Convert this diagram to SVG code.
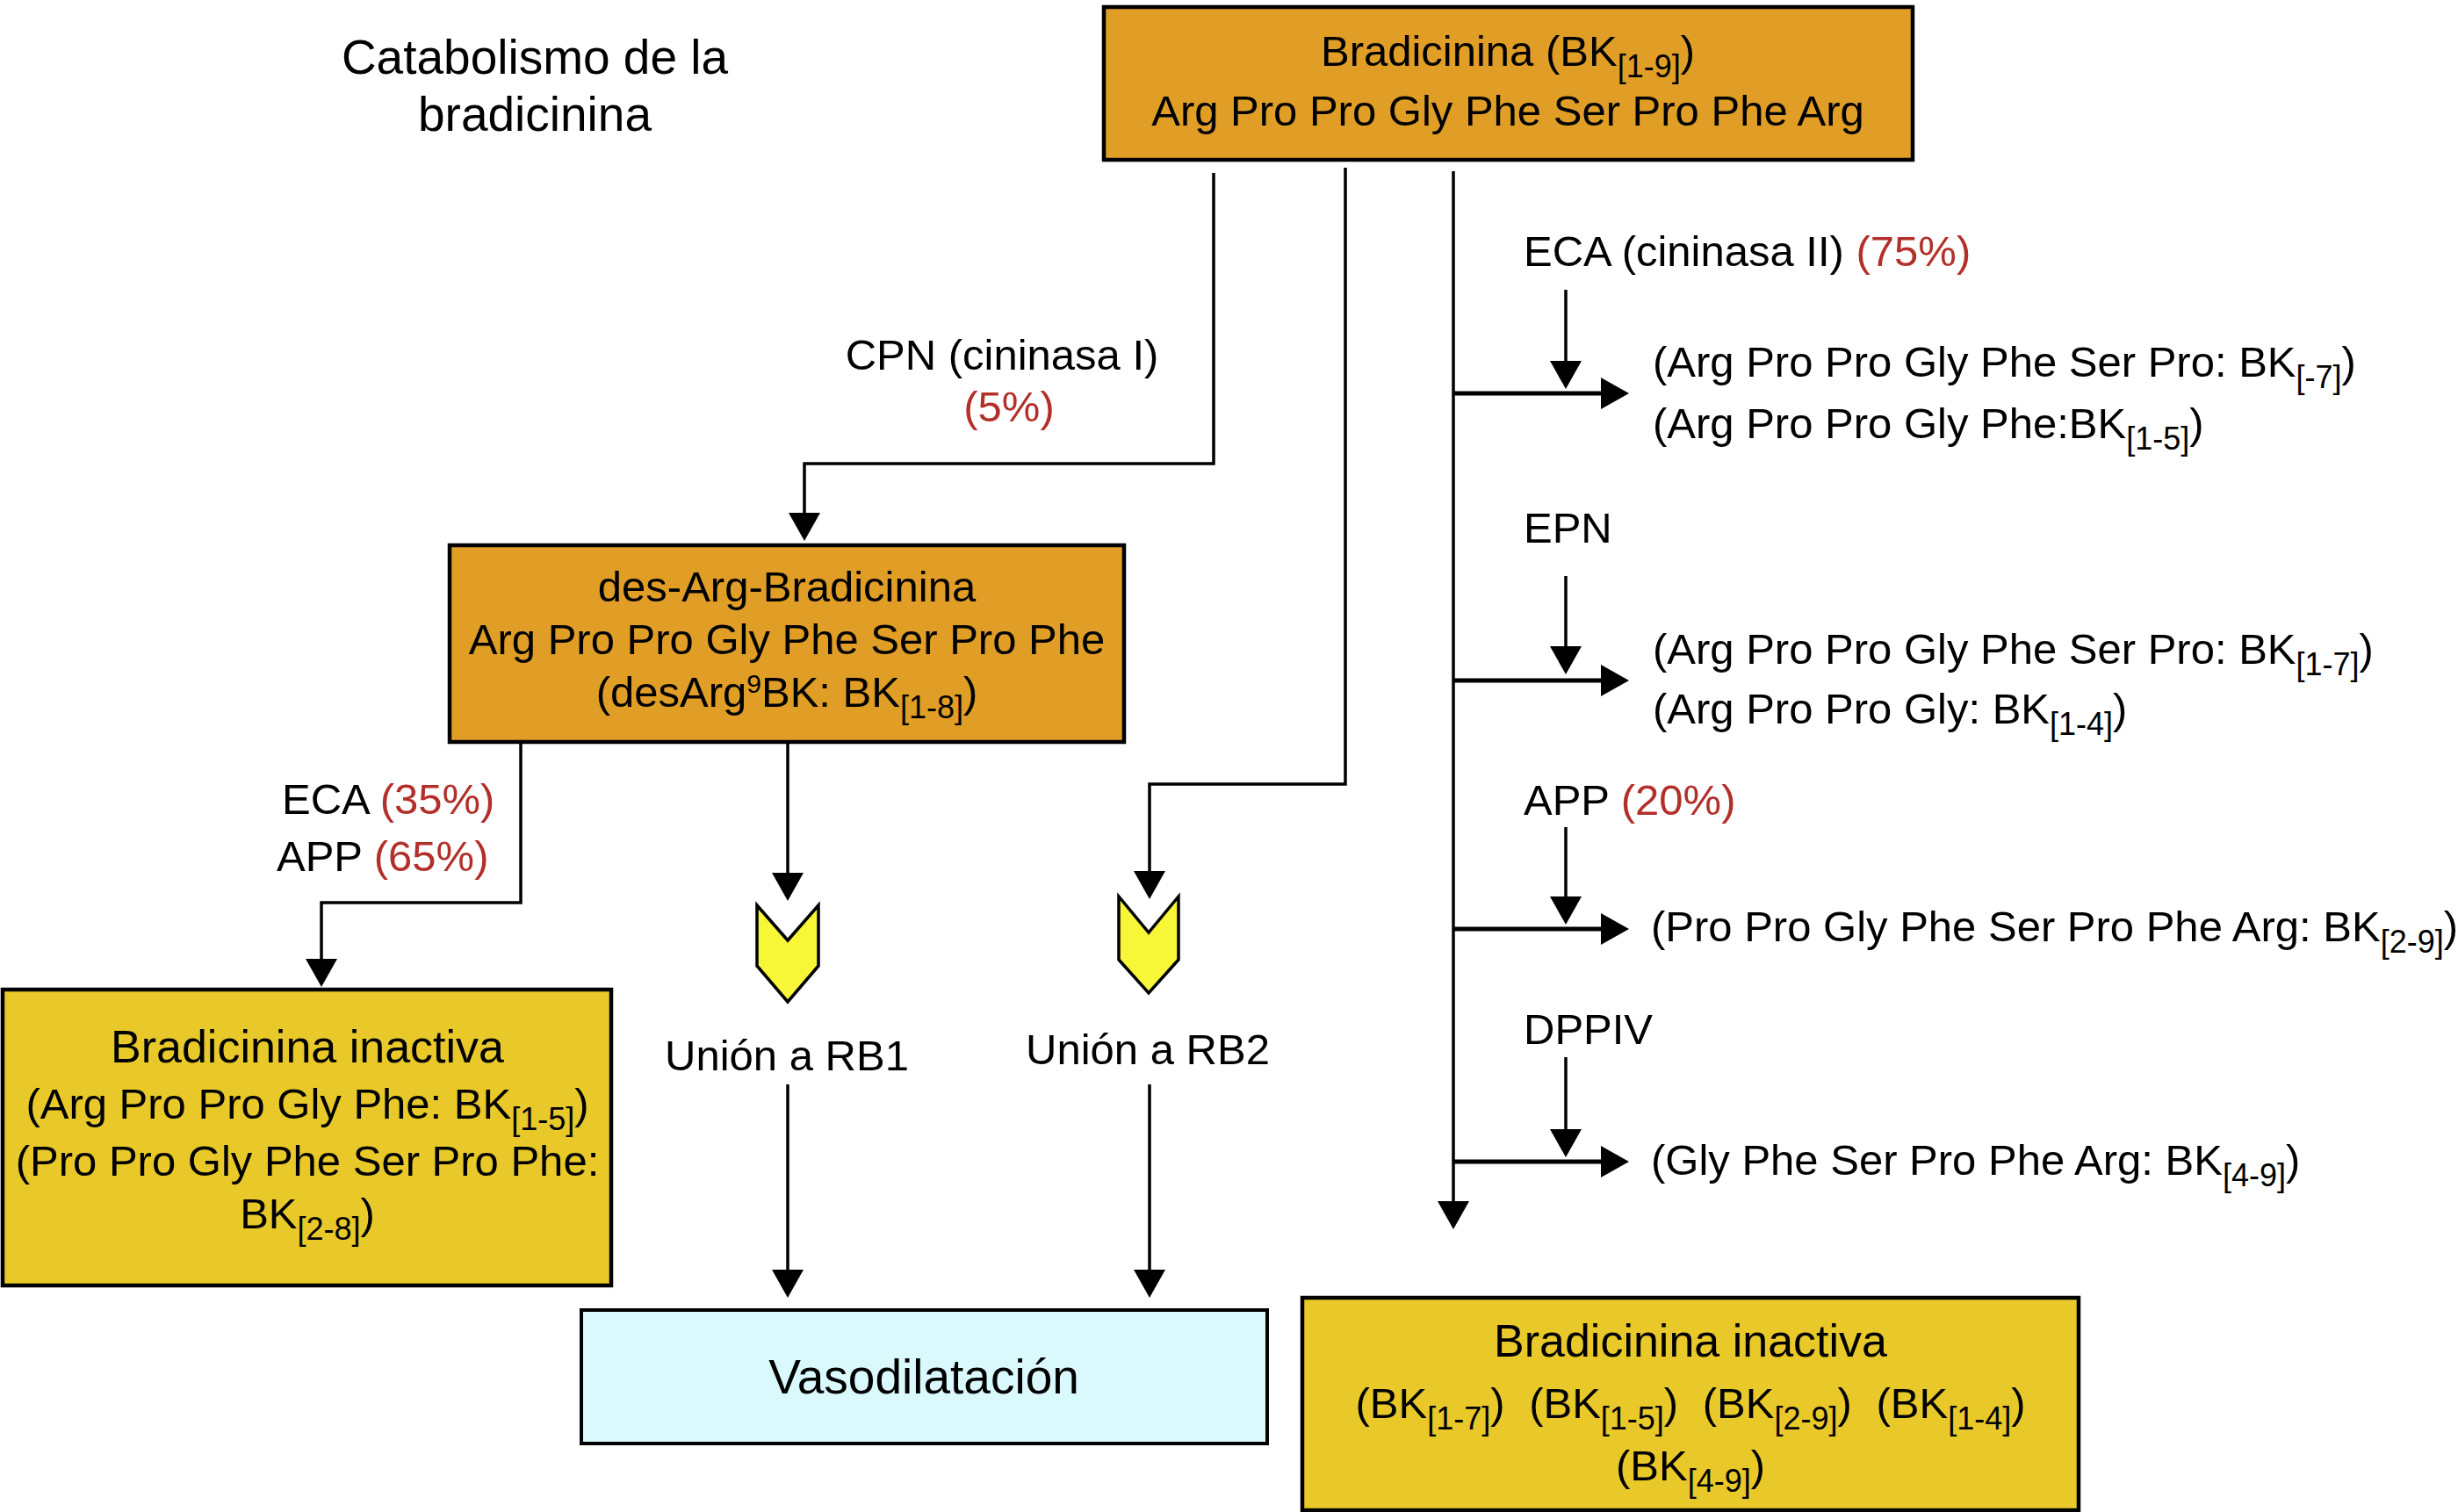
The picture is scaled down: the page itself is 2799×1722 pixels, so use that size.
<svg xmlns="http://www.w3.org/2000/svg" width="2799" height="1722" viewBox="0 0 2799 1722">
<style>
text{font-family:"Liberation Sans",Arial,Helvetica,sans-serif;font-size:49px;fill:#000}
.c{text-anchor:middle}
.big{font-size:55px}
.hd{font-size:52px}
.sub{font-size:36px}
.sup{font-size:30px}
.red{fill:#B3302A}
.orange{fill:#E09E26;stroke:#000;stroke-width:4.5}
.yellow{fill:#E8C929;stroke:#000;stroke-width:4.5}
.cyan{fill:#D9F9FC;stroke:#000;stroke-width:4}
.chev{fill:#F7F737;stroke:#000;stroke-width:3.5;stroke-linejoin:miter}
.ln{fill:none;stroke:#000;stroke-width:3.5}
.thick{stroke-width:5}
.arr{marker-end:url(#ah)}
</style>
<defs>
<marker id="ah" markerUnits="userSpaceOnUse" markerWidth="32" markerHeight="36" refX="20" refY="18" orient="auto">
<path d="M0,0 L32,18 L0,36 Z" fill="#000"/>
</marker>
</defs>
<rect width="2799" height="1722" fill="#fff"/>

<g id="title">
<text class="c big" x="609" y="84">Catabolismo de la</text>
<text class="c big" x="609" y="149">bradicinina</text>
</g>

<g id="connectors">
<polyline class="ln arr" points="1382,197 1382,528 916,528 916,604"/>
<polyline class="ln arr" points="1532,191 1532,893 1309,893 1309,1012"/>
<polyline class="ln arr" points="1655,195 1655,1388"/>
<line class="ln thick arr" x1="1655" y1="448" x2="1843" y2="448"/>
<line class="ln thick arr" x1="1655" y1="775" x2="1843" y2="775"/>
<line class="ln thick arr" x1="1655" y1="1058" x2="1843" y2="1058"/>
<line class="ln thick arr" x1="1655" y1="1323" x2="1843" y2="1323"/>
<line class="ln arr" x1="1783" y1="330" x2="1783" y2="431"/>
<line class="ln arr" x1="1783" y1="656" x2="1783" y2="756"/>
<line class="ln arr" x1="1783" y1="942" x2="1783" y2="1041"/>
<line class="ln arr" x1="1783" y1="1204" x2="1783" y2="1306"/>
<polyline class="ln arr" points="593,846 593,1028 366,1028 366,1112"/>
<line class="ln arr" x1="897" y1="846" x2="897" y2="1014"/>
<line class="ln arr" x1="897" y1="1235" x2="897" y2="1466"/>
<line class="ln arr" x1="1309" y1="1235" x2="1309" y2="1466"/>
</g>

<g id="bradicinina">
<rect class="orange" x="1257" y="8" width="921" height="174"/>
<text class="c" x="1717" y="75">Bradicinina (BK<tspan class="sub" dy="13">[1-9]</tspan><tspan dy="-13">)</tspan></text>
<text class="c" x="1717" y="143">Arg Pro Pro Gly Phe Ser Pro Phe Arg</text>
</g>

<g id="label-cpn">
<text class="c" x="1141" y="421">CPN (cininasa I)</text>
<text class="c red" x="1149" y="480">(5%)</text>
</g>

<g id="des-arg">
<rect class="orange" x="512" y="621" width="768" height="224"/>
<text class="c" x="896" y="685">des-Arg-Bradicinina</text>
<text class="c" x="896" y="745">Arg Pro Pro Gly Phe Ser Pro Phe</text>
<text class="c" x="896" y="805">(desArg<tspan class="sup" dy="-16">9</tspan><tspan dy="16">BK: BK</tspan><tspan class="sub" dy="13">[1-8]</tspan><tspan dy="-13">)</tspan></text>
</g>

<g id="label-eca-app">
<text x="321" y="927">ECA <tspan class="red">(35%)</tspan></text>
<text x="315" y="992">APP <tspan class="red">(65%)</tspan></text>
</g>

<g id="inactiva-left">
<rect class="yellow" x="3" y="1127" width="693" height="337"/>
<text class="c hd" x="350" y="1210">Bradicinina inactiva</text>
<text class="c" x="350" y="1274">(Arg Pro Pro Gly Phe: BK<tspan class="sub" dy="13">[1-5]</tspan><tspan dy="-13">)</tspan></text>
<text class="c" x="350" y="1339">(Pro Pro Gly Phe Ser Pro Phe:</text>
<text class="c" x="350" y="1399">BK<tspan class="sub" dy="13">[2-8]</tspan><tspan dy="-13">)</tspan></text>
</g>

<g id="rb1">
<polygon class="chev" points="862,1031 897,1071 932,1031 932,1100 897,1141 862,1100"/>
<text class="c" x="896" y="1219">Unión a RB1</text>
</g>

<g id="rb2">
<polygon class="chev" points="1274,1021 1308,1062 1342,1021 1342,1093 1308,1131 1274,1093"/>
<text class="c" x="1307" y="1212">Unión a RB2</text>
</g>

<g id="vasodilatacion">
<rect class="cyan" x="662" y="1492" width="781" height="152"/>
<text class="c big" x="1052" y="1587">Vasodilatación</text>
</g>

<g id="eca-branch">
<text x="1735" y="303">ECA (cininasa II) <tspan class="red">(75%)</tspan></text>
<text x="1882" y="429">(Arg Pro Pro Gly Phe Ser Pro: BK<tspan class="sub" dy="13">[-7]</tspan><tspan dy="-13">)</tspan></text>
<text x="1882" y="499">(Arg Pro Pro Gly Phe:BK<tspan class="sub" dy="13">[1-5]</tspan><tspan dy="-13">)</tspan></text>
</g>

<g id="epn-branch">
<text x="1735" y="618">EPN</text>
<text x="1882" y="756">(Arg Pro Pro Gly Phe Ser Pro: BK<tspan class="sub" dy="13">[1-7]</tspan><tspan dy="-13">)</tspan></text>
<text x="1882" y="824">(Arg Pro Pro Gly: BK<tspan class="sub" dy="13">[1-4]</tspan><tspan dy="-13">)</tspan></text>
</g>

<g id="app-branch">
<text x="1735" y="928">APP <tspan class="red">(20%)</tspan></text>
<text x="1880" y="1072">(Pro Pro Gly Phe Ser Pro Phe Arg: BK<tspan class="sub" dy="13">[2-9]</tspan><tspan dy="-13">)</tspan></text>
</g>

<g id="dppiv-branch">
<text x="1735" y="1189">DPPIV</text>
<text x="1880" y="1338">(Gly Phe Ser Pro Phe Arg: BK<tspan class="sub" dy="13">[4-9]</tspan><tspan dy="-13">)</tspan></text>
</g>

<g id="inactiva-right">
<rect class="yellow" x="1483" y="1478" width="884" height="242"/>
<text class="c hd" x="1925" y="1545">Bradicinina inactiva</text>
<text class="c" x="1925" y="1615">(BK<tspan class="sub" dy="13">[1-7]</tspan><tspan dy="-13">)</tspan><tspan dx="14"> (BK</tspan><tspan class="sub" dy="13">[1-5]</tspan><tspan dy="-13">)</tspan><tspan dx="14"> (BK</tspan><tspan class="sub" dy="13">[2-9]</tspan><tspan dy="-13">)</tspan><tspan dx="14"> (BK</tspan><tspan class="sub" dy="13">[1-4]</tspan><tspan dy="-13">)</tspan></text>
<text class="c" x="1925" y="1686">(BK<tspan class="sub" dy="13">[4-9]</tspan><tspan dy="-13">)</tspan></text>
</g>
</svg>
